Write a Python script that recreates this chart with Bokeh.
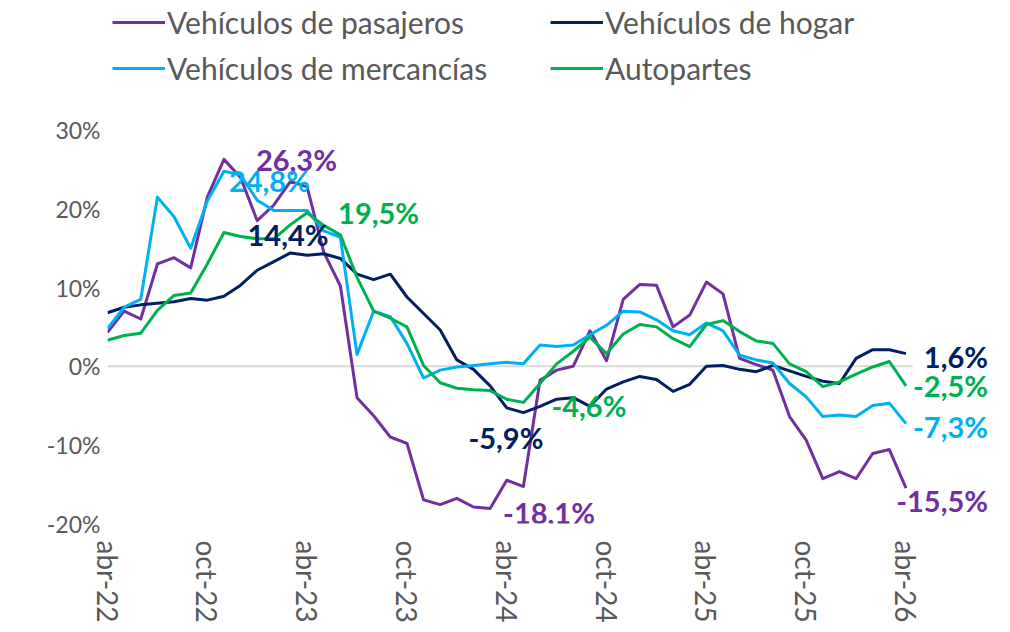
from bokeh.plotting import figure
from bokeh.models import Range1d, FixedTicker, Legend, LegendItem, Label
from bokeh.embed import file_html
from bokeh.resources import INLINE

meses = ["abr-22", "may-22", "jun-22", "jul-22", "ago-22", "sep-22", "oct-22", "nov-22", "dic-22",
         "ene-23", "feb-23", "mar-23", "abr-23", "may-23", "jun-23", "jul-23", "ago-23", "sep-23",
         "oct-23", "nov-23", "dic-23", "ene-24", "feb-24", "mar-24", "abr-24", "may-24", "jun-24",
         "jul-24", "ago-24", "sep-24", "oct-24", "nov-24", "dic-24", "ene-25", "feb-25", "mar-25",
         "abr-25", "may-25", "jun-25", "jul-25", "ago-25", "sep-25", "oct-25", "nov-25", "dic-25",
         "ene-26", "feb-26", "mar-26", "abr-26"]

pasajeros = [4.3, 7.0, 6.0, 13.0, 13.8, 12.5, 21.5, 26.3, 24.0, 18.5, 20.5, 23.5, 22.8, 14.5, 10.2,
             -4.0, -6.3, -9.0, -9.8, -17.0, -17.6, -16.8, -17.9, -18.1, -14.5, -15.3, -1.8, -0.5,
             0.0, 4.5, 0.7, 8.5, 10.4, 10.3, 5.0, 6.5, 10.7, 9.2, 1.0, 0.2, -0.5, -6.4, -9.4,
             -14.3, -13.4, -14.3, -11.1, -10.6, -15.5]
hogar = [6.8, 7.5, 7.8, 8.0, 8.2, 8.6, 8.4, 8.9, 10.3, 12.2, 13.3, 14.4, 14.1, 14.3, 13.7, 11.7,
         11.0, 11.7, 8.8, 6.7, 4.6, 0.8, -0.4, -2.5, -5.3, -5.9, -5.1, -4.2, -4.0, -5.1, -2.9,
         -2.0, -1.3, -1.7, -3.2, -2.3, 0.0, 0.1, -0.4, -0.7, 0.1, -0.6, -1.3, -1.9, -2.2, 1.0,
         2.1, 2.1, 1.6]
mercancias = [4.8, 7.5, 8.5, 21.5, 19.0, 15.0, 21.0, 24.8, 24.3, 21.1, 19.8, 19.8, 19.8, 17.2,
              16.4, 1.5, 7.0, 6.3, 2.9, -1.5, -0.5, -0.1, 0.1, 0.3, 0.5, 0.3, 2.7, 2.5, 2.7, 4.0,
              5.2, 7.0, 6.9, 5.9, 4.5, 4.0, 5.5, 4.5, 1.4, 0.8, 0.4, -2.2, -3.9, -6.4, -6.2, -6.4,
              -5.0, -4.7, -7.3]
autopartes = [3.3, 3.9, 4.2, 7.1, 9.0, 9.3, 13.0, 17.0, 16.5, 16.2, 16.2, 18.0, 19.5, 17.9, 16.7,
              11.3, 7.0, 6.1, 5.0, 0.1, -2.1, -2.8, -3.0, -3.1, -4.2, -4.6, -2.2, 0.3, 1.9, 3.7,
              1.6, 4.1, 5.3, 5.0, 3.5, 2.5, 5.3, 5.8, 4.4, 3.2, 2.9, 0.3, -0.7, -2.6, -2.0, -1.0,
              -0.1, 0.6, -2.5]

nombres = ["Vehículos de pasajeros", "Vehículos de hogar", "Vehículos de mercancías", "Autopartes"]
colores = ["#7030A0", "#002060", "#00B0F0", "#00B050"]
x_ticks = [0, 6, 12, 18, 24, 30, 36, 42, 48]
y_ticks = [-20, -10, 0, 10, 20, 30]

FONT = "Lato"
GRAY = "#595959"

p = figure(width=1005, height=628, output_backend="svg", toolbar_location=None,
           x_range=Range1d(0, 53.2), y_range=Range1d(-20, 46.5),
           min_border_left=107, min_border_right=13, min_border_top=0, min_border_bottom=105)
p.outline_line_color = None
p.background_fill_color = "white"
p.border_fill_color = "white"

xs = list(range(len(meses)))

# zero reference line across the data span
p.line([xs[0], xs[-1] + 0.4], [0, 0], line_color="#D9D9D9", line_width=2)

series = [pasajeros, hogar, mercancias, autopartes]
rs = []
for vals, col in zip(series, colores):
    rs.append(p.line(xs, vals, line_color=col, line_width=3, line_join="round"))

# axes
p.xaxis.ticker = FixedTicker(ticks=x_ticks)
p.xaxis.major_label_overrides = {t: meses[t] for t in x_ticks}
p.xaxis.major_label_orientation = "vertical"
p.yaxis.ticker = FixedTicker(ticks=y_ticks)
p.yaxis.major_label_overrides = {t: f"{t}%" for t in y_ticks}
for ax, fs, so in ((p.xaxis, "28px", 17), (p.yaxis, "23px", 7)):
    ax.axis_line_color = None
    ax.major_tick_line_color = None
    ax.minor_tick_line_color = None
    ax.major_tick_out = 0
    ax.major_tick_in = 0
    ax.minor_tick_out = 0
    ax.minor_tick_in = 0
    ax.major_label_text_font = FONT
    ax.major_label_text_font_size = fs
    ax.major_label_text_color = GRAY
    ax.major_label_standoff = so

p.xgrid.grid_line_color = None
p.ygrid.grid_line_color = None

# legends
def mk_legend(idx, loc):
    leg = Legend(items=[LegendItem(label=nombres[i], renderers=[rs[i]]) for i in idx],
                 location=loc, orientation="vertical")
    leg.glyph_width = 53
    leg.glyph_height = 30
    leg.label_height = 30
    leg.label_standoff = 2
    leg.spacing = 10
    leg.padding = 0
    leg.margin = 0
    leg.border_line_alpha = 0
    leg.background_fill_alpha = 0
    leg.label_text_font = FONT
    leg.label_text_font_size = "30px"
    leg.label_text_color = GRAY
    return leg

p.add_layout(mk_legend([0, 2], (5, 437)))
p.add_layout(mk_legend([1, 3], (443, 437)))

def fmt(v):
    return f"{v:.1f}%".replace(".", ",")

def lab(i, vals, col, xo, yo, align="left"):
    p.add_layout(Label(x=i, y=vals[i], text=fmt(vals[i]), x_offset=xo, y_offset=yo,
                       text_align=align, text_baseline="middle", text_color=col,
                       text_font=FONT, text_font_style="bold", text_font_size="29px"))

lab(7, pasajeros, colores[0], 32, 0)
lab(7, mercancias, colores[2], 5, -9)
lab(11, hogar, colores[1], -43, 18)
lab(12, autopartes, colores[3], 31, 0)
lab(25, hogar, colores[1], -55, -25)
lab(25, autopartes, colores[3], 28, -3)
lab(23, pasajeros, colores[0], 13, -4)
last = len(meses) - 1
lab(last, hogar, colores[1], 82, -3, "right")
lab(last, autopartes, colores[3], 82, 0, "right")
lab(last, mercancias, colores[2], 82, -3, "right")
lab(last, pasajeros, colores[0], 82, -12, "right")

open("out.html", "w").write(file_html(p, INLINE))
